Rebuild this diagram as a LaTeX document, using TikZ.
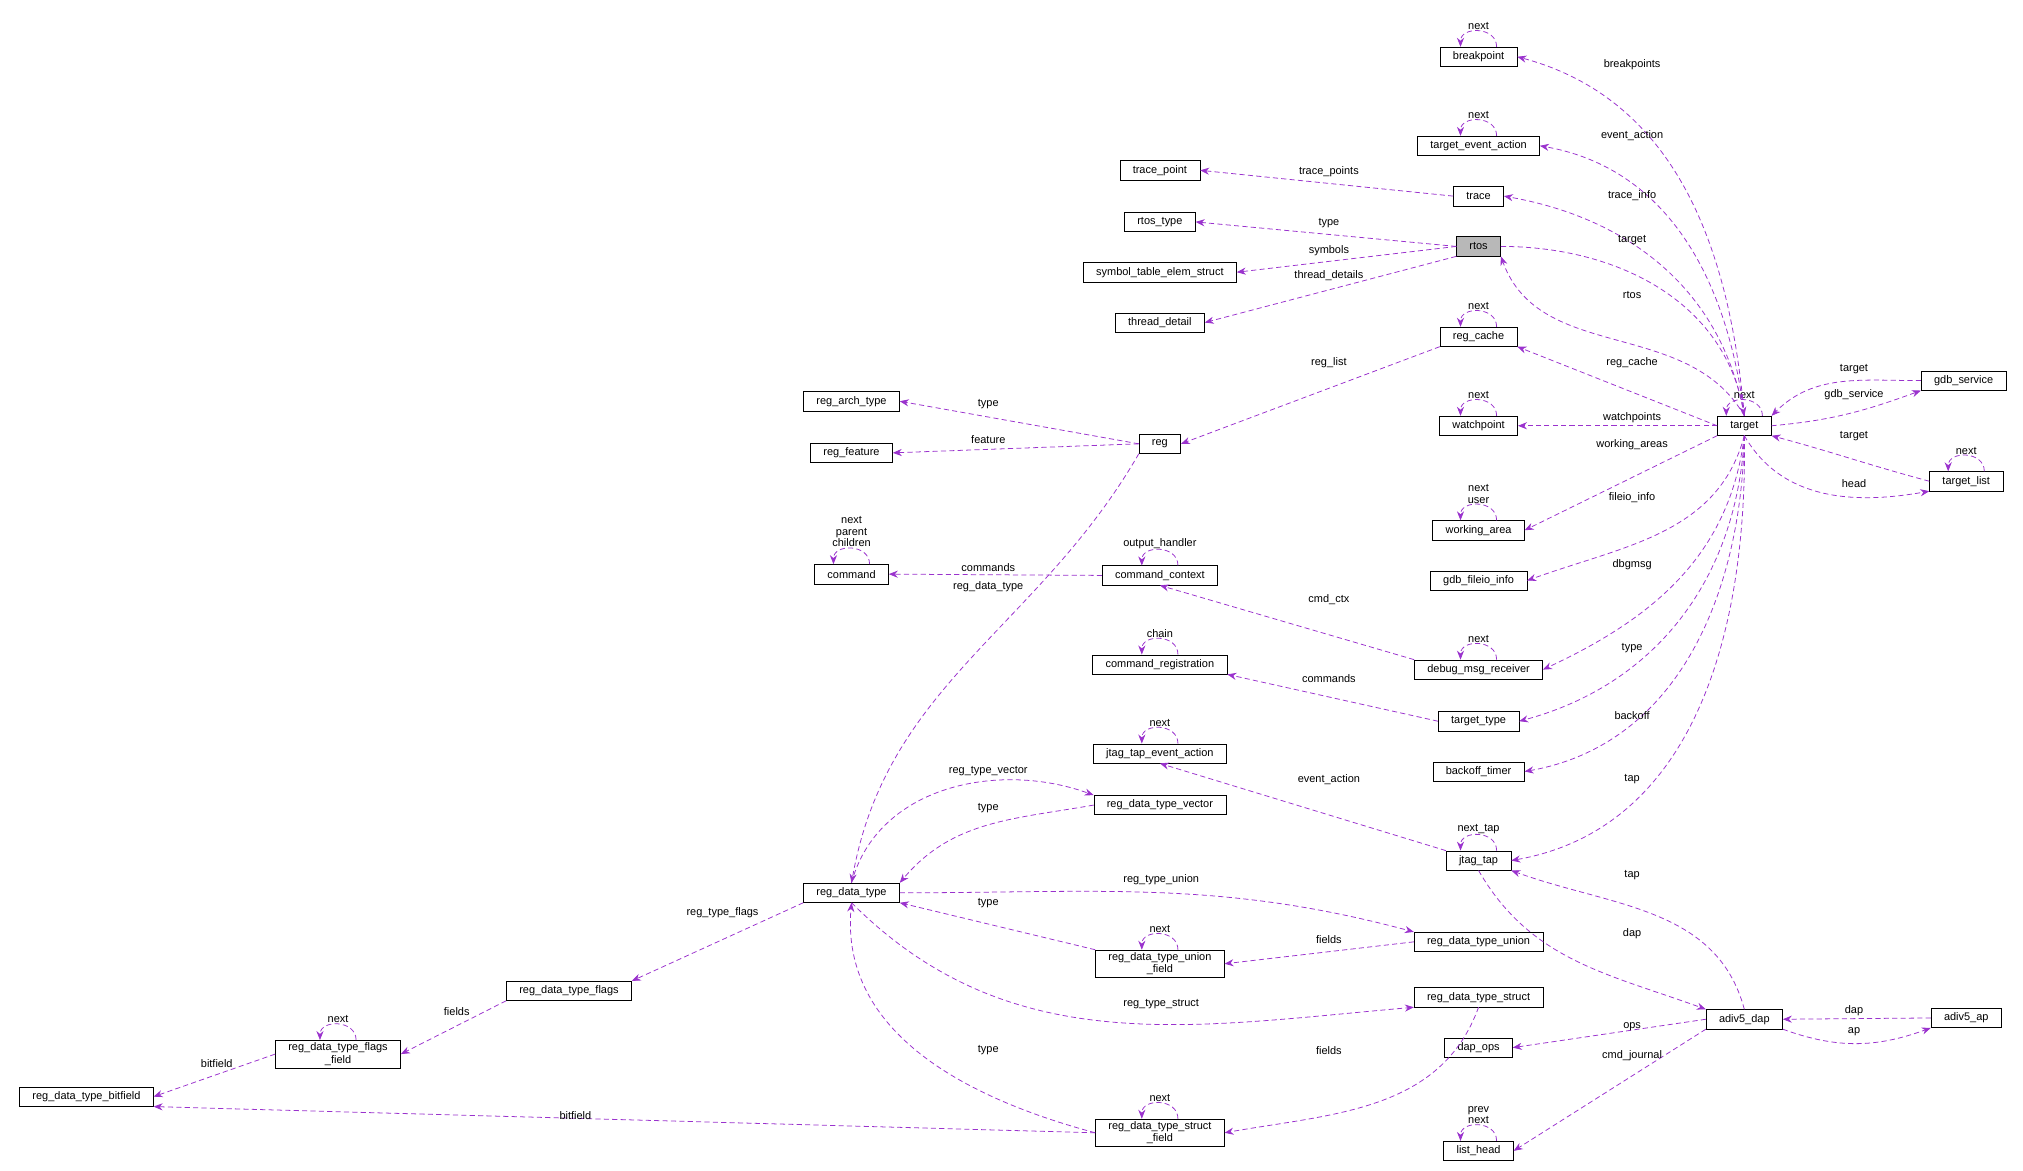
\documentclass[tikz,border=0pt]{standalone}
\usepackage{fontspec}
\setmainfont{Liberation Sans}
\usetikzlibrary{arrows.meta}

\definecolor{relcol}{HTML}{9A32CD}
\tikzset{
  cls/.style={draw, fill=white, font=\fontsize{8.5}{9.5}\selectfont, inner xsep=10pt, inner ysep=2pt, minimum height=15pt, align=center},
  hl/.style={cls, fill=black!28},
  rel/.style={draw=relcol, dash pattern=on 4pt off 2.5pt, -{Stealth[length=7pt,width=5.5pt]}, line width=0.6pt},
  lbl/.style={font=\fontsize{8.5}{9}\selectfont, inner sep=1pt, align=center}
}
\newcommand{\selfloop}[2]{\draw[rel] ([xshift=14pt]#1.north) .. controls +(0,16) and +(0,16) .. ([xshift=-14pt]#1.north) node[lbl,pos=0.5,above=0pt]{#2};}

\begin{document}
\begin{tikzpicture}[x=1pt,y=1pt]
	\useasboundingbox (0,0) rectangle (1568,-907);
	% classes
	\node[cls] (breakpoint) at (1146,-44) {breakpoint};
	\node[cls] (tea) at (1146,-113) {target\_event\_action};
	\node[cls] (tracepoint) at (899,-132) {trace\_point};
	\node[cls] (trace) at (1146,-152) {trace};
	\node[cls] (rtostype) at (899,-172) {rtos\_type};
	\node[hl] (rtos) at (1146,-191) {rtos};
	\node[cls] (symbol) at (899,-211) {symbol\_table\_elem\_struct};
	\node[cls] (thread) at (899,-250) {thread\_detail};
	\node[cls] (regcache) at (1146,-261) {reg\_cache};
	\node[cls] (gdbservice) at (1522,-295) {gdb\_service};
	\node[cls] (regarch) at (660,-311) {reg\_arch\_type};
	\node[cls] (target) at (1352,-330) {target};
	\node[cls] (watchpoint) at (1146,-330) {watchpoint};
	\node[cls] (reg) at (899,-344) {reg};
	\node[cls] (regfeature) at (660,-351) {reg\_feature};
	\node[cls] (targetlist) at (1524,-373) {target\_list};
	\node[cls] (workarea) at (1146,-411) {working\_area};
	\node[cls] (command) at (660,-445) {command};
	\node[cls] (cmdctx) at (899,-446) {command\_context};
	\node[cls] (fileio) at (1146,-450) {gdb\_fileio\_info};
	\node[cls] (dbgmsg) at (1146,-519) {debug\_msg\_receiver};
	\node[cls] (cmdreg) at (899,-515) {command\_registration};
	\node[cls] (ttype) at (1146,-559) {target\_type};
	\node[cls] (jtea) at (899,-584) {jtag\_tap\_event\_action};
	\node[cls] (backoff) at (1146,-598) {backoff\_timer};
	\node[cls] (vector) at (899,-624) {reg\_data\_type\_vector};
	\node[cls] (jtag) at (1146,-667) {jtag\_tap};
	\node[cls] (rdt) at (660,-692) {reg\_data\_type};
	\node[cls] (union) at (1146,-730) {reg\_data\_type\_union};
	\node[cls] (ufield) at (899,-747) {reg\_data\_type\_union\\\_field};
	\node[cls] (flags) at (441,-768) {reg\_data\_type\_flags};
	\node[cls] (struct) at (1146,-773) {reg\_data\_type\_struct};
	\node[cls] (dap) at (1352,-790) {adiv5\_dap};
	\node[cls] (ap) at (1524,-789) {adiv5\_ap};
	\node[cls] (ffield) at (262,-817) {reg\_data\_type\_flags\\\_field};
	\node[cls] (dapops) at (1146,-812) {dap\_ops};
	\node[cls] (bitfield) at (67,-850) {reg\_data\_type\_bitfield};
	\node[cls] (sfield) at (899,-878) {reg\_data\_type\_struct\\\_field};
	\node[cls] (listhead) at (1146,-892) {list\_head};

	% self references
	\selfloop{breakpoint}{next}
	\selfloop{tea}{next}
	\selfloop{regcache}{next}
	\selfloop{target}{next}
	\selfloop{watchpoint}{next}
	\selfloop{workarea}{next\\user}
	\selfloop{command}{next\\parent\\children}
	\selfloop{cmdctx}{output\_handler}
	\selfloop{dbgmsg}{next}
	\selfloop{cmdreg}{chain}
	\selfloop{jtea}{next}
	\selfloop{jtag}{next\_tap}
	\selfloop{ufield}{next}
	\selfloop{ffield}{next}
	\selfloop{sfield}{next}
	\selfloop{listhead}{prev\\next}
	\selfloop{targetlist}{next}

	% target members
	\draw[rel] (target.north) to[out=95,in=-15] (breakpoint.east);
	\draw[rel] (target.north) to[out=97,in=-10] (tea.east);
	\draw[rel] (target.north) to[out=100,in=-10] (trace.east);
	\draw[rel] (rtos.east) to[out=0,in=100] (target.north);
	\draw[rel] (target.north) to[out=120,in=-70] (rtos.south east);
	\draw[rel] (target.west) -- (regcache.south east);
	\draw[rel] (target.west) -- (watchpoint.east);
	\draw[rel] (gdbservice.west) to[out=180,in=45] (target.north east);
	\draw[rel] (target.east) to[out=5,in=200] (gdbservice.south west);
	\draw[rel] (targetlist.west) to[out=165,in=-15] (target.south east);
	\draw[rel] (target.south) to[out=-60,in=190] (targetlist.south west);
	\draw[rel] (target.south west) -- (workarea.east);
	\draw[rel] (target.south) to[out=-105,in=20] (fileio.east);
	\draw[rel] (target.south) to[out=-97,in=25] (dbgmsg.east);
	\draw[rel] (target.south) to[out=-93,in=15] (ttype.east);
	\draw[rel] (target.south) to[out=-91,in=10] (backoff.east);
	\draw[rel] (target.south) to[out=-89,in=10] (jtag.east);

	% other members
	\draw[rel] (trace.west) -- (tracepoint.east);
	\draw[rel] (rtos.west) -- (rtostype.east);
	\draw[rel] (rtos.west) -- (symbol.east);
	\draw[rel] (rtos.south west) -- (thread.east);
	\draw[rel] (regcache.south west) -- (reg.east);
	\draw[rel] (reg.west) -- (regarch.east);
	\draw[rel] (reg.west) -- (regfeature.east);
	\draw[rel] (cmdctx.west) -- (command.east);
	\draw[rel] (dbgmsg.north west) -- (cmdctx.south);
	\draw[rel] (ttype.west) -- (cmdreg.south east);
	\draw[rel] (jtag.north west) -- (jtea.south);
	\draw[rel] (reg.south west) to[out=-120,in=80] (rdt.north);
	\draw[rel] (rdt.north) to[out=75,in=160] (vector.north west);
	\draw[rel] (vector.west) to[out=190,in=50] (rdt.north east);
	\draw[rel] (rdt.east) to[out=0,in=165] (union.north west);
	\draw[rel] (union.west) -- (ufield.east);
	\draw[rel] (ufield.north west) -- (rdt.south east);
	\draw[rel] (rdt.south west) -- (flags.north east);
	\draw[rel] (flags.south west) -- (ffield.east);
	\draw[rel] (ffield.west) -- (bitfield.east);
	\draw[rel] (rdt.south) to[out=-45,in=185] (struct.south west);
	\draw[rel] (struct.south) to[out=-110,in=10] (sfield.east);
	\draw[rel] (sfield.west) to[out=165,in=-95] (rdt.south);
	\draw[rel] (sfield.west) -- (bitfield.south east);
	\draw[rel] (dap.north) to[out=105,in=-20] (jtag.south east);
	\draw[rel] (jtag.south) to[out=-60,in=160] (dap.north west);
	\draw[rel] (dap.west) -- (dapops.east);
	\draw[rel] (dap.south west) -- (listhead.east);
	\draw[rel] (ap.west) -- (dap.east);
	\draw[rel] (dap.south east) to[out=-20,in=200] (ap.south west);

	% labels
	\node[lbl] (l1) at (1265,-50) {breakpoints};
	\node[lbl] (l2) at (1265,-105) {event\_action};
	\node[lbl] (l3) at (1265,-152) {trace\_info};
	\node[lbl] (l4) at (1265,-186) {target};
	\node[lbl] (l5) at (1265,-229) {rtos};
	\node[lbl] (l6) at (1265,-281) {reg\_cache};
	\node[lbl] (l7) at (1265,-324) {watchpoints};
	\node[lbl] (l8) at (1265,-345) {working\_areas};
	\node[lbl] (l9) at (1265,-386) {fileio\_info};
	\node[lbl] (l10) at (1265,-438) {dbgmsg};
	\node[lbl] (l11) at (1265,-502) {type};
	\node[lbl] (l12) at (1265,-555) {backoff};
	\node[lbl] (l13) at (1265,-604) {tap};
	\node[lbl] (l14) at (1437,-286) {target};
	\node[lbl] (l15) at (1437,-306) {gdb\_service};
	\node[lbl] (l16) at (1437,-338) {target};
	\node[lbl] (l17) at (1437,-375) {head};
	\node[lbl] (l18) at (1030,-133) {trace\_points};
	\node[lbl] (l19) at (1030,-173) {type};
	\node[lbl] (l20) at (1030,-194) {symbols};
	\node[lbl] (l21) at (1030,-214) {thread\_details};
	\node[lbl] (l22) at (1030,-281) {reg\_list};
	\node[lbl] (l23) at (766,-313) {type};
	\node[lbl] (l24) at (766,-341) {feature};
	\node[lbl] (l25) at (766,-440) {commands};
	\node[lbl] (l26) at (766,-455) {reg\_data\_type};
	\node[lbl] (l27) at (1030,-465) {cmd\_ctx};
	\node[lbl] (l28) at (1030,-526) {commands};
	\node[lbl] (l29) at (1030,-604) {event\_action};
	\node[lbl] (l30) at (766,-598) {reg\_type\_vector};
	\node[lbl] (l31) at (766,-626) {type};
	\node[lbl] (l32) at (900,-682) {reg\_type\_union};
	\node[lbl] (l33) at (766,-700) {type};
	\node[lbl] (l34) at (1030,-728) {fields};
	\node[lbl] (l35) at (560,-707) {reg\_type\_flags};
	\node[lbl] (l36) at (900,-778) {reg\_type\_struct};
	\node[lbl] (l37) at (354,-784) {fields};
	\node[lbl] (l38) at (168,-824) {bitfield};
	\node[lbl] (l39) at (1030,-814) {fields};
	\node[lbl] (l40) at (766,-814) {type};
	\node[lbl] (l41) at (446,-865) {bitfield};
	\node[lbl] (l42) at (1265,-678) {tap};
	\node[lbl] (l43) at (1265,-724) {dap};
	\node[lbl] (l44) at (1265,-796) {ops};
	\node[lbl] (l45) at (1265,-818) {cmd\_journal};
	\node[lbl] (l46) at (1437,-783) {dap};
	\node[lbl] (l47) at (1437,-800) {ap};
\end{tikzpicture}
\end{document}
